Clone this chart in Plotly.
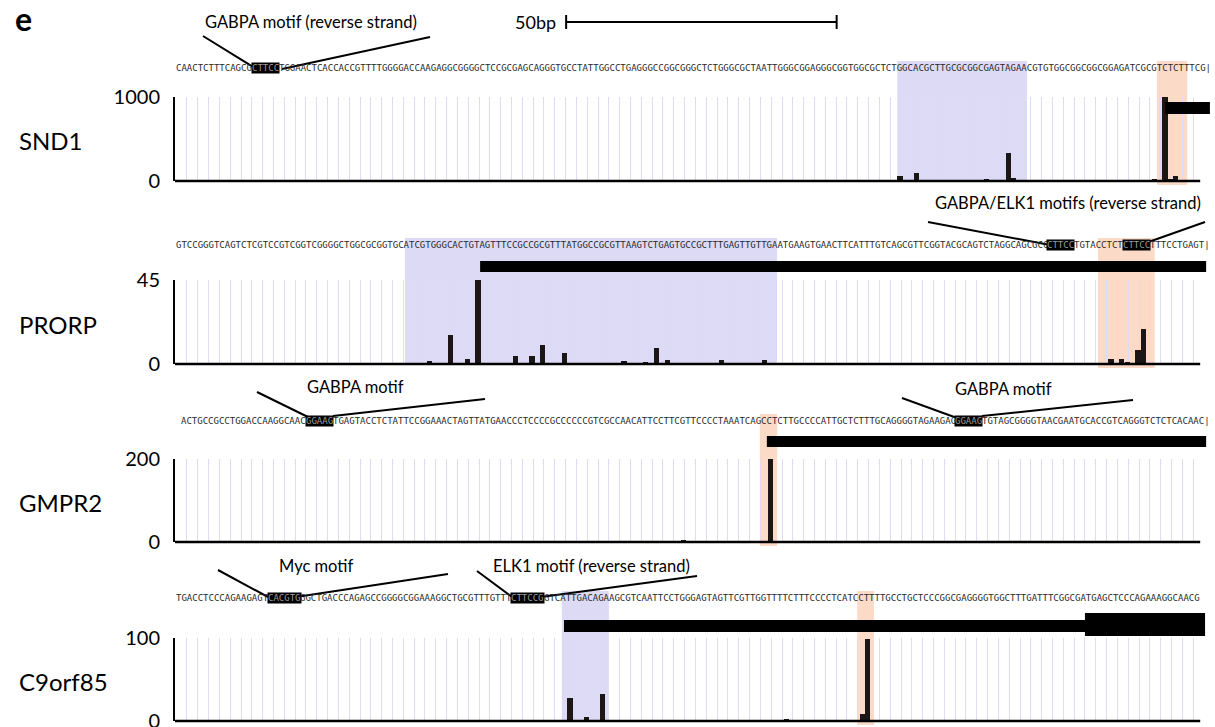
import re
import plotly.graph_objects as go

W, H = 1215, 727

# ---------------- data ----------------
genes = ["SND1", "PRORP", "GMPR2", "C9orf85"]
y_max = [1000, 45, 200, 100]

# genomic sequences (motifs in brackets), start offset in bp
sequences = [
    "CAACTCTTTCAGCG[CTTCC]TGGAACTCACCACCGTTTTGGGGACCAAGAGGCGGGGCTCCGCGAGCAGGGTGCCTATTGGCCTGAGGGCCGGCGGGCTCTGGGCGCTAATTGGGCGGAGGGCGGTGGCGCTCTGGCACGCTTGCGCGGCGAGTAGAACGTGTGGCGGCGGCGGAGATCGCGTCTCTTTCG|",
    "GTCCGGGTCAGTCTCGTCCGTCGGTCGGGGCTGGCGCGGTGCATCGTGGGCACTGTAGTTTCCGCCGCGTTTATGGCCGCGTTAAGTCTGAGTGCCGCTTTGAGTTGTTGAATGAAGTGAACTTCATTTGTCAGCGTTCGGTACGCAGTCTAGGCAGCGCC[CTTCC]TGTACCTCT[CTTCC]TTTCCTGAGT|",
    "ACTGCCGCCTGGACCAAGGCAAC[GGAAG]TGAGTACCTCTATTCCGGAAACTAGTTATGAACCCTCCCCGCCCCCCGTCGCCAACATTCCTTCGTTCCCCTAAATCAGCCTCTTGCCCCATTGCTCTTTGCAGGGGTAGAAGAG[GGAAG]TGTAGCGGGGTAACGAATGCACCGTCAGGGTCTCTCACAAC|",
    "TGACCTCCCAGAAGAGT[CACGTG]GGCTGACCCAGAGCCGGGGCGGAAAGGCTGCGTTTGTTT[CTTCCG]GTCATTGACAGAAGCGTCAATTCCTGGGAGTAGTTCGTTGGTTTTCTTTCCCCTCATCCTTTTGCCTGCTCCCGGCGAGGGGTGGCTTTGATTTCGGCGATGAGCTCCCAGAAAGGCAACG",
]
seq_start = [0, 0, 1, 0]

# read counts per position (bp)
snd1_pos = [134, 137, 143, 150, 152, 154, 155, 172, 181, 183, 184, 185]
snd1_val = [55, 90, 10, 20, 8, 333, 40, 10, 28, 1000, 20, 55]

prorp_pos = [47, 51, 54, 56, 60, 63, 66, 68, 72, 76, 78, 83, 87, 89, 91, 93, 99, 101, 109,
             171, 173, 174, 175, 176, 178, 179]
prorp_val = [1.5, 15.4, 2.9, 45, 0.5, 4.4, 4.4, 10, 5.9, 0.3, 0.3, 1.5, 0.7, 8.4, 2.2, 0.3, 0.3, 2.2, 2.2,
             0.3, 2.6, 0.5, 2.9, 0.7, 7.7, 19]

gmpr2_pos = [86, 90, 94, 110, 120]
gmpr2_val = [1, 1, 2.5, 200, 1.5]

c9orf85_pos = [46, 48, 53, 55, 62, 67, 69, 73, 76, 79, 82, 113, 127, 128]
c9orf85_val = [0.8, 0.8, 0.8, 0.8, 0.8, 0.8, 0.8, 27.7, 4.5, 32.5, 0.6, 1.5, 8, 99]

bar_pos = [snd1_pos, prorp_pos, gmpr2_pos, c9orf85_pos]
bar_val = [snd1_val, prorp_val, gmpr2_val, c9orf85_val]

# highlighted regions (bp)
blue_regions = [[(133.5, 157.5)], [(42.5, 111.3)], [], [(71.5, 80.2)]]
orange_regions = [[(181.5, 187.1)], [(170.6, 181.1)], [(108.1, 111.3)], [(126.1, 129.2)]]

# transcript models (bp): thin (UTR) and thick (CDS) parts
exon_thin = [[(183, 191.3)], [(56.4, 190.6)], [(109.4, 190.6)], [(71.9, 168.4)]]
exon_thick = [[], [], [], [(168.2, 190.4)]]

scale_bar_bp = 50
scale_bar_start = 72.3

# ---------------- layout helpers ----------------
def px(x):
    return x / W


def py(y):
    return 1 - y / H


BP_PX = 5.41
X_LEFT = 175
X_RIGHT = 1213
x_range = [0, (X_RIGHT - X_LEFT) / BP_PX]
rows_px = [(97, 181), (280, 364), (459, 542), (638, 721)]
seq_y = [68, 245, 421, 598]
exon_y = [(102, 114), (261, 272), (436, 447), (620, 632)]
thick_y = [(102, 114), (261, 272), (436, 447), (613, 636)]
label_y = [140, 324, 502, 681]

BAR_COLOR = "#1c1616"
BLUE = "#dcdaf5"
ORANGE = "#fcdac8"
GRID = "#dedcf4"
FONT = "Lato"

fig = go.Figure()
shapes = []
annotations = []
grid_vals = [2.2 + 2 * k for k in range(94)]

for i in range(4):
    n = "" if i == 0 else str(i + 1)
    xa, ya = "x" + n, "y" + n
    top, bot = rows_px[i]
    fig.add_trace(go.Bar(
        x=bar_pos[i], y=bar_val[i], width=0.95,
        marker=dict(color=BAR_COLOR, line=dict(width=0)),
        xaxis=xa, yaxis=ya, showlegend=False, hoverinfo="x+y",
    ))
    fig.layout["xaxis" + n] = dict(
        domain=[px(X_LEFT), px(X_RIGHT)], range=x_range, anchor=ya, automargin=False,
        tickmode="array", tickvals=grid_vals, showticklabels=False, ticks="",
        showgrid=True, gridcolor=GRID, gridwidth=1, zeroline=False, showline=False,
        fixedrange=True,
    )
    fig.layout["yaxis" + n] = dict(
        domain=[py(bot), py(top)], range=[0, y_max[i]], anchor=xa, automargin=False,
        tickmode="array", tickvals=[0, y_max[i]], ticktext=["0", str(y_max[i])],
        ticks="", ticklabelstandoff=9, ticklabeloverflow="allow",
        showgrid=False, zeroline=False,
        showline=True, linecolor="black", linewidth=2,
        tickfont=dict(family=FONT, size=20, color="black"), fixedrange=True,
    )
    # highlighted regions
    for (a, b) in blue_regions[i]:
        shapes.append(dict(type="rect", xref=xa, yref="paper", x0=a, x1=b,
                           y0=py(bot + 1), y1=py(seq_y[i] - 7), fillcolor=BLUE,
                           line=dict(width=0), layer="below"))
    for (a, b) in orange_regions[i]:
        shapes.append(dict(type="rect", xref=xa, yref="paper", x0=a, x1=b,
                           y0=py(bot + 4), y1=py(seq_y[i] - 7), fillcolor=ORANGE,
                           line=dict(width=0), layer="below"))
    # baseline
    shapes.append(dict(type="line", xref=xa, yref="paper", x0=0, x1=189.5,
                       y0=py(bot), y1=py(bot), line=dict(color="black", width=2.5)))
    # transcript models
    for (a, b) in exon_thin[i]:
        shapes.append(dict(type="rect", xref=xa, yref="paper", x0=a, x1=b,
                           y0=py(exon_y[i][1]), y1=py(exon_y[i][0]), fillcolor="black",
                           line=dict(width=0), layer="above"))
    for (a, b) in exon_thick[i]:
        shapes.append(dict(type="rect", xref=xa, yref="paper", x0=a, x1=b,
                           y0=py(thick_y[i][1]), y1=py(thick_y[i][0]), fillcolor="black",
                           line=dict(width=0), layer="above"))
    # sequence text
    pos = seq_start[i]
    for part in re.findall(r"\[[^\]]+\]|[^\[]+", sequences[i]):
        motif = part.startswith("[")
        txt = part.strip("[]")
        annotations.append(dict(
            x=pos, y=py(seq_y[i]), xref=xa, yref="paper", xanchor="left", yanchor="middle",
            text=txt, showarrow=False, borderpad=0,
            font=dict(family="DejaVu Sans Mono", size=9, color="#9a9a9a" if motif else "#2a2a2a"),
            bgcolor="black" if motif else None,
        ))
        pos += len(txt)
    # gene label
    annotations.append(dict(x=px(17), y=py(label_y[i]), xref="paper", yref="paper",
                            xanchor="left", yanchor="middle", text=genes[i], showarrow=False,
                            font=dict(family=FONT, size=24, color="black")))

# callout labels and leader lines (pixel layout)
callouts = [
    ("GABPA motif (reverse strand)", 311, 22, [(203, 36, 258, 70), (430, 37, 282, 69)]),
    ("GABPA/ELK1 motifs (reverse strand)", 1068, 203, [(928, 222, 1050, 245), (1205, 222, 1140, 245)]),
    ("GABPA motif", 355, 387, [(257, 392, 308, 417), (485, 399, 333, 416)]),
    ("GABPA motif", 1004, 389, [(902, 398, 957, 418), (1133, 400, 982, 416)]),
    ("Myc motif", 316, 566, [(218, 570, 268, 597), (448, 574, 296, 597)]),
    ("ELK1 motif (reverse strand)", 591, 566, [(477, 571, 512, 597), (697, 576, 541, 597)]),
]
for text, cx, cy, lines in callouts:
    annotations.append(dict(x=px(cx), y=py(cy), xref="paper", yref="paper", text=text,
                            xanchor="center", yanchor="middle",
                            showarrow=False, font=dict(family=FONT, size=16.5, color="black")))
    for (x0, y0, x1, y1) in lines:
        shapes.append(dict(type="line", xref="paper", yref="paper", x0=px(x0), y0=py(y0),
                           x1=px(x1), y1=py(y1), line=dict(color="black", width=2)))

# scale bar
sb_y = py(22)
shapes.append(dict(type="line", xref="x", yref="paper", x0=scale_bar_start,
                   x1=scale_bar_start + scale_bar_bp, y0=sb_y, y1=sb_y,
                   line=dict(color="black", width=2)))
for xv in (scale_bar_start, scale_bar_start + scale_bar_bp):
    shapes.append(dict(type="line", xref="x", yref="paper", x0=xv, x1=xv,
                       y0=py(29), y1=py(15), line=dict(color="black", width=2)))
annotations.append(dict(x=px(558), y=sb_y, xref="paper", yref="paper", xanchor="right",
                        yanchor="middle", text="50bp", showarrow=False,
                        font=dict(family=FONT, size=18, color="black")))

# panel letter
annotations.append(dict(x=px(13), y=py(18), xref="paper", yref="paper", xanchor="left",
                        yanchor="middle", text="<b>e</b>", showarrow=False,
                        font=dict(family=FONT, size=32, color="black")))

fig.update_layout(
    width=W, height=H, margin=dict(l=0, r=0, t=0, b=0, pad=0), autosize=False,
    paper_bgcolor="white", plot_bgcolor="rgba(0,0,0,0)",
    shapes=shapes, annotations=annotations, bargap=0, showlegend=False,
)

fig.write_html("out.html", config={"displayModeBar": False},
               post_script="document.body.style.margin='0';document.body.style.overflow='hidden';")
